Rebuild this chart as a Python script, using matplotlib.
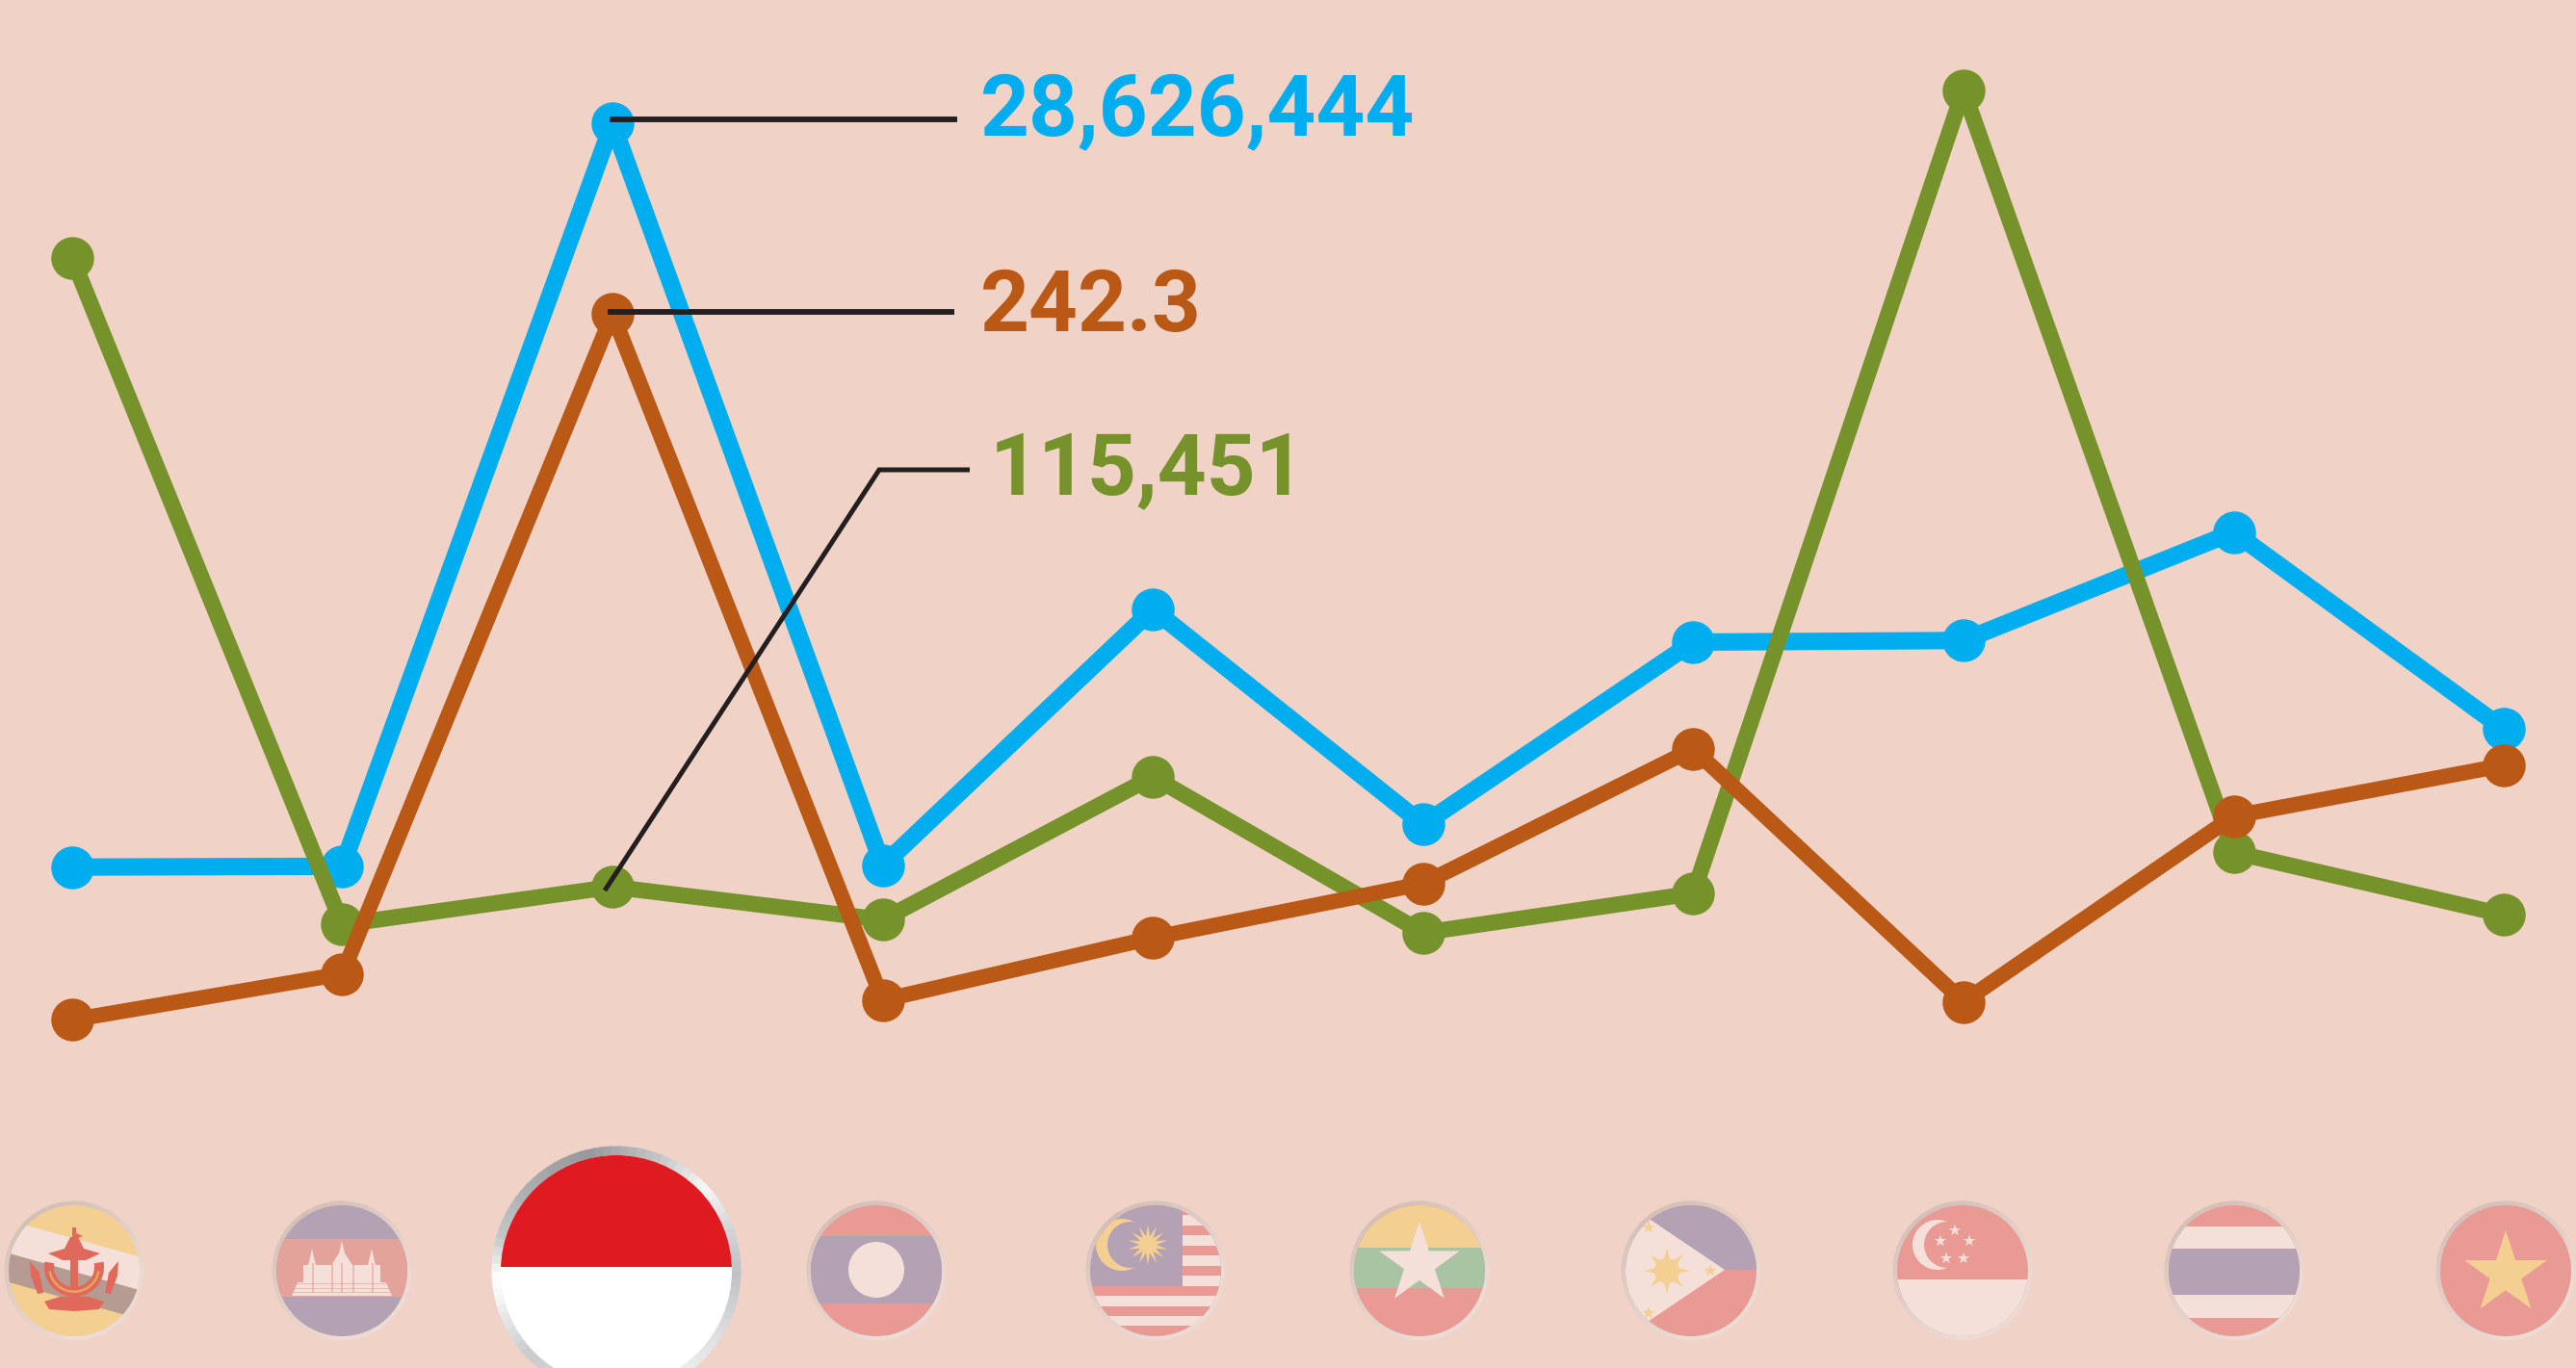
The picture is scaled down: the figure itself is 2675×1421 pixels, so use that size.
import numpy as np
import matplotlib
matplotlib.use('Agg')
import matplotlib.pyplot as plt
from matplotlib.patches import Circle, Polygon, Rectangle, Wedge

countries = ['Brunei', 'Cambodia', 'Indonesia', 'Laos', 'Malaysia', 'Myanmar',
             'Philippines', 'Singapore', 'Thailand', 'Vietnam']
# no axis in the picture, so values are an index read off the heights of the points
blue_vals = [305, 305.5, 758, 306, 462, 331, 442, 443, 509, 389]
olive_vals = [676, 270, 293, 273, 360, 265, 289, 778, 314, 276]
orange_vals = [212, 240, 642, 224, 262, 295, 377, 223, 336, 367]
callouts = ['28,626,444', '242.3', '115,451']

BG = '#F0D2C6'
BLUE = '#00AEEF'
ORANGE = '#B95915'
OLIVE = '#76922A'
INK = '#231F20'
RED = '#EA9A95'
PURPLE = '#B4A1B4'
CREAM = '#F4E0D8'
YELLOW = '#F3CF91'
GREEN = '#A9C4A2'

fig = plt.figure(figsize=(26.75, 14.21), dpi=100, facecolor=BG)

ax = fig.add_axes([0, 0, 1, 1])
ax.set_xlim(-0.267, 9.267)
ax.set_ylim(0, 833)
ax.axis('off')
x = np.arange(len(countries))
for vals, col, lw, z in [(blue_vals, BLUE, 13, 2), (olive_vals, OLIVE, 12, 3), (orange_vals, ORANGE, 11.5, 4)]:
    ax.plot(x, vals, color=col, lw=lw, marker='o', ms=32, mew=0, zorder=z, solid_joinstyle='round')

# overlay in picture pixels for the flags and call-outs
ov = fig.add_axes([0, 0, 1, 1])
ov.set_xlim(0, 2675)
ov.set_ylim(1421, 0)
ov.axis('off')
ov.patch.set_alpha(0)


def star(cx, cy, R, n=5, ratio=0.382):
    ang = np.arange(2 * n) * np.pi / n - np.pi / 2
    rad = np.where(np.arange(2 * n) % 2 == 0, R, R * ratio)
    return np.column_stack([cx + rad * np.cos(ang), cy + rad * np.sin(ang)])


def ring(cx, cy, r_out, r_in, stops, cols):
    # gradient ring: wedges coloured by the angle (y is flipped, 90 is the bottom)
    rgb = np.array([matplotlib.colors.to_rgb(c) for c in cols])
    for a in range(0, 360, 4):
        c = [np.interp(a, stops, rgb[:, i]) for i in range(3)]
        ov.add_patch(Wedge((cx, cy), r_out, a - 0.5, a + 4.5, width=r_out - r_in, fc=c, ec='none'))


def flag(cx, cy=1320, r=68, base=RED):
    clip = Circle((cx, cy), r, fc=base, ec='none', transform=ov.transData)
    ov.add_patch(clip)

    def add(p):
        ov.add_patch(p)
        p.set_clip_path(clip)
        return p
    return add


def bands(add, cx, edges, cols, cy=1320, r=130):
    for (y0, y1), c in zip(zip(edges[:-1], edges[1:]), cols):
        add(Rectangle((cx - r, cy + y0), 2 * r, y1 - y0, fc=c, ec='none'))


small_stops = [0, 90, 180, 225, 270, 360]
small_cols = ['#EADAD2', '#ECDCD5', '#DCC9C1', '#D5C0B8', '#D6C2BA', '#EADAD2']
small_x = [77, 355, 910, 1200, 1474, 1756, 2038, 2320, 2602]
for cx in small_x:
    ring(cx, 1320, 72.5, 67, small_stops, small_cols)

# Brunei
cx = small_x[0]
add = flag(cx, base=YELLOW)
add(Polygon([(cx - 110, 1256), (cx + 110, 1317), (cx + 110, 1352), (cx - 110, 1290)], fc=CREAM, ec='none'))
add(Polygon([(cx - 110, 1290), (cx + 110, 1352), (cx + 110, 1382), (cx - 110, 1320)], fc='#B59B92', ec='none'))
EMB = '#E0695C'
add(Polygon([(cx - 27, 1302), (cx - 10, 1297), (cx - 4, 1285), (cx + 4, 1285), (cx + 10, 1297), (cx + 27, 1302),
             (cx + 12, 1309), (cx - 12, 1309)], fc=EMB, ec='none'))
add(Rectangle((cx - 2, 1275), 4, 20, fc=EMB, ec='none'))
add(Rectangle((cx - 4, 1295), 8, 50, fc=EMB, ec='none'))
add(Polygon([(cx, 1280), (cx + 9, 1284), (cx, 1288)], fc=EMB, ec='none'))
add(Wedge((cx, 1316), 31, -10, 190, width=10, fc=EMB, ec='none'))
add(Wedge((cx, 1316), 27, 10, 170, width=2.5, fc='#E8A55A', ec='none'))
add(Polygon([(cx - 31, 1352), (cx - 15, 1347), (cx + 15, 1347), (cx + 31, 1352), (cx + 26, 1360), (cx, 1362),
             (cx - 26, 1360)], fc=EMB, ec='none'))
for s in (-1, 1):
    add(Polygon([(cx + s * 46, 1310), (cx + s * 36, 1322), (cx + s * 32, 1343), (cx + s * 38, 1344), (cx + s * 45, 1325)],
                fc=EMB, ec='none'))

# Cambodia
cx = small_x[1]
add = flag(cx, base=PURPLE)
bands(add, cx, [-33, 27], ['#E3A39B'])
half = [(0, -31), (3, -18), (7, -12), (11, -6), (27, -6), (29, -14), (31, -23), (33, -14), (35, -6), (40, -6), (40, 12),
        (46, 12), (52, 26)]
temple = [(cx + a, 1320 + b) for a, b in half] + [(cx - a, 1320 + b) for a, b in half[::-1]]
add(Polygon(temple, fc=CREAM, ec='none'))
for yy in (1333, 1338, 1342):
    add(Rectangle((cx - 52, yy), 104, 1, fc='#E3A39B', ec='none', alpha=0.6))
for xx in (-31, -11, -1, 11, 31):
    add(Rectangle((cx + xx, 1312), 1.5, 30, fc='#E3A39B', ec='none', alpha=0.6))

# Indonesia, the highlighted one
ring(640, 1320, 129.5, 119, [0, 30, 60, 135, 165, 175, 195, 225, 255, 290, 315, 340, 360],
     ['#BFC1C4', '#DDDEE0', '#F0F0F2', '#C8CACC', '#F4F4F4', '#FFFFFF', '#C4C6C8', '#A8AAAC', '#97989B', '#C5C7C9',
      '#F8F8F8', '#D0D2D4', '#BFC1C4'])
add = flag(640, r=120, base='white')
bands(add, 640, [-130, -4], ['#DF1B21'], r=130)

# Laos
cx = small_x[2]
add = flag(cx, base=RED)
bands(add, cx, [-36, 34], [PURPLE])
add(Circle((cx, 1319), 29, fc=CREAM, ec='none'))

# Malaysia
cx = small_x[3]
add = flag(cx, base=RED)
for i in range(13):
    y0 = 1252 + (i + 1) * 10.45
    if i % 2 == 0:
        add(Rectangle((cx - 80, y0), 160, 10.45, fc=CREAM, ec='none'))
add(Rectangle((cx - 80, 1240), 108, 96, fc=PURPLE, ec='none'))
add(Circle((cx - 35, 1293), 27, fc=YELLOW, ec='none'))
add(Circle((cx - 26, 1293), 24, fc=PURPLE, ec='none'))
add(Polygon(star(cx - 8, 1293, 21, n=14, ratio=0.42), fc=YELLOW, ec='none'))

# Myanmar
cx = small_x[4]
add = flag(cx, base=RED)
bands(add, cx, [-130, -24, 18], [YELLOW, GREEN])
add(Polygon(star(cx, 1313, 44), fc=CREAM, ec='none'))

# Philippines
cx = small_x[5]
add = flag(cx, base=RED)
bands(add, cx, [-130, -1], [PURPLE])
add(Polygon([(cx + 35, 1319), (cx - 45, 1265), (cx - 90, 1235), (cx - 90, 1403), (cx - 45, 1373)], fc=CREAM, ec='none'))
add(Polygon(star(cx - 25, 1320, 24, n=8, ratio=0.4), fc=YELLOW, ec='none'))
add(Circle((cx - 25, 1320), 13, fc=YELLOW, ec='none'))
for sx, sy in [(cx - 44, 1275), (cx - 44, 1364), (cx + 20, 1320)]:
    add(Polygon(star(sx, sy, 7), fc=YELLOW, ec='none'))

# Singapore
cx = small_x[6]
add = flag(cx, base=RED)
bands(add, cx, [9, 130], [CREAM])
add(Circle((cx - 26, 1293), 26, fc=CREAM, ec='none'))
add(Circle((cx - 16, 1293), 24, fc=RED, ec='none'))
for sx, sy in [(-8, 1278), (-23, 1289), (7, 1289), (-17, 1307), (1, 1307)]:
    add(Polygon(star(cx + sx, sy, 6.5), fc=CREAM, ec='none'))

# Thailand
cx = small_x[7]
add = flag(cx, base=RED)
bands(add, cx, [-46, -23, 25, 49], [CREAM, PURPLE, CREAM])

# Vietnam
cx = small_x[8]
add = flag(cx, base=RED)
add(Polygon(star(cx, 1323, 45), fc=YELLOW, ec='none'))

# call-outs
ov.plot([633, 994], [124, 124], color=INK, lw=4.2, solid_capstyle='butt', zorder=6)
ov.plot([631, 991], [324, 324], color=INK, lw=4.2, solid_capstyle='butt', zorder=6)
ov.plot([628, 913, 1007], [925, 488, 488], color=INK, lw=3.6, solid_capstyle='butt', solid_joinstyle='miter', zorder=6)

txt = dict(family='Roboto', fontweight='bold', fontsize=64, va='baseline', ha='left', zorder=7)
ov.text(1018, 140, callouts[0], color=BLUE, **txt)
ov.text(1018, 344, callouts[1], color=ORANGE, **txt)
ov.text(1028, 513, callouts[2], color=OLIVE, **txt)

fig.savefig('out.png', dpi=100, facecolor=BG)
